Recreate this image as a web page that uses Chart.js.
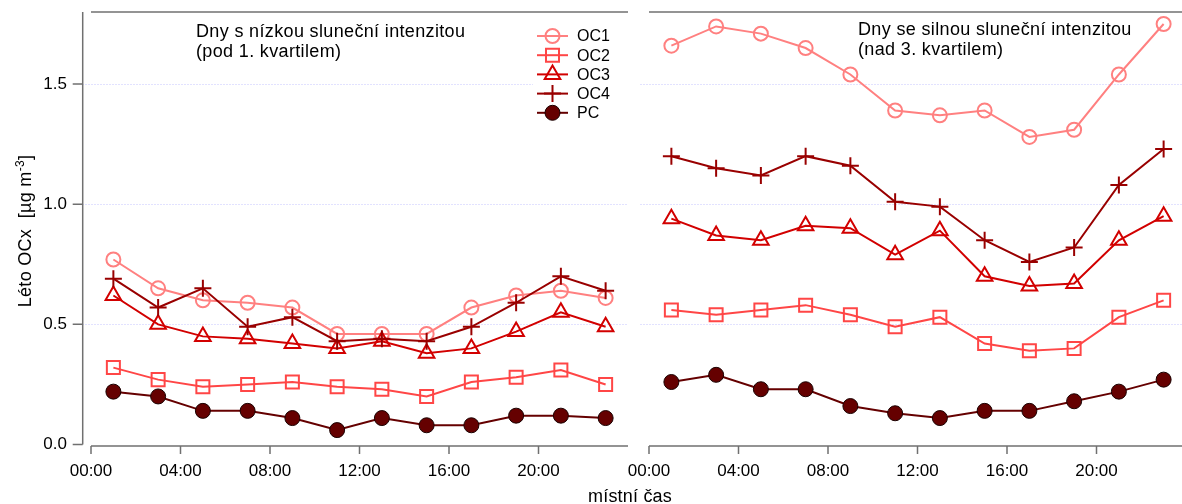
<!DOCTYPE html>
<html><head><meta charset="utf-8">
<script src="https://cdn.jsdelivr.net/npm/chart.js@4.4.1/dist/chart.umd.min.js"></script>
<style>
html,body{margin:0;padding:0;background:#fff;overflow:hidden;}
#wrap{position:relative;width:1182px;height:504px;overflow:hidden;font-family:"Liberation Sans",Arial,sans-serif;color:#000;}
#c1{position:absolute;left:0;top:0;}
#c2{position:absolute;left:600px;top:0;}
.note{position:absolute;font-size:18px;line-height:20px;white-space:nowrap;letter-spacing:0.35px;}
#ytitle{position:absolute;left:-75px;top:221px;width:200px;height:20px;line-height:20px;font-size:18px;letter-spacing:0.3px;text-align:center;white-space:nowrap;transform:rotate(-90deg);transform-origin:50% 50%;}
#ytitle .sup{position:relative;top:-7px;font-size:12px;}
#xtitle{position:absolute;left:530px;top:486px;width:200px;text-align:center;font-size:18px;line-height:20px;letter-spacing:0.2px;}
</style></head>
<body><div id="wrap">
<canvas id="c1" width="640" height="504"></canvas>
<canvas id="c2" width="600" height="504"></canvas>
<div class="note" style="left:196px;top:21px;">Dny s nízkou sluneční intenzitou<br>(pod 1. kvartilem)</div>
<div class="note" style="left:858px;top:19px;">Dny se silnou sluneční intenzitou<br>(nad 3. kvartilem)</div>
<div id="ytitle">Léto OCx&nbsp; [µg m<span class="sup">-3</span>]</div>
<div id="xtitle">místní čas</div>
</div>
<script>
// ---- data ----
const hours = [1, 3, 5, 7, 9, 11, 13, 15, 17, 19, 21, 23];
const xTicks = [0, 4, 8, 12, 16, 20];
const xTickLabels = ['00:00', '04:00', '08:00', '12:00', '16:00', '20:00'];
const yTicks = [0.0, 0.5, 1.0, 1.5];
const seriesNames = ['OC1', 'OC2', 'OC3', 'OC4', 'PC'];

// low solar intensity days (below 1st quartile)
const lowOC1 = [0.77, 0.65, 0.60, 0.59, 0.57, 0.46, 0.46, 0.46, 0.57, 0.62, 0.64, 0.61];
const lowOC2 = [0.32, 0.27, 0.24, 0.25, 0.26, 0.24, 0.23, 0.20, 0.26, 0.28, 0.31, 0.25];
const lowOC3 = [0.62, 0.50, 0.45, 0.44, 0.42, 0.40, 0.43, 0.38, 0.40, 0.47, 0.55, 0.49];
const lowOC4 = [0.69, 0.57, 0.65, 0.49, 0.53, 0.43, 0.44, 0.43, 0.49, 0.59, 0.70, 0.64];
const lowPC  = [0.22, 0.20, 0.14, 0.14, 0.11, 0.06, 0.11, 0.08, 0.08, 0.12, 0.12, 0.11];

// high solar intensity days (above 3rd quartile)
const highOC1 = [1.66, 1.74, 1.71, 1.65, 1.54, 1.39, 1.37, 1.39, 1.28, 1.31, 1.54, 1.75];
const highOC2 = [0.56, 0.54, 0.56, 0.58, 0.54, 0.49, 0.53, 0.42, 0.39, 0.40, 0.53, 0.60];
const highOC3 = [0.94, 0.87, 0.85, 0.91, 0.90, 0.79, 0.89, 0.70, 0.66, 0.67, 0.85, 0.95];
const highOC4 = [1.20, 1.15, 1.12, 1.20, 1.16, 1.01, 0.99, 0.85, 0.76, 0.82, 1.08, 1.23];
const highPC  = [0.26, 0.29, 0.23, 0.23, 0.16, 0.13, 0.11, 0.14, 0.14, 0.18, 0.22, 0.27];

// ---- styles ----
const FONT = '"Liberation Sans", Arial, sans-serif';
const styles = {
  OC1: {color: '#ff8080', pointStyle: 'circle',   radius: 7,   bg: 'rgba(0,0,0,0)', border: '#ff8080', bw: 2},
  OC2: {color: '#ff4646', pointStyle: 'rect',     radius: 9.2, bg: 'rgba(0,0,0,0)', border: '#ff4646', bw: 2},
  OC3: {color: '#d20000', pointStyle: 'triangle', radius: 9,   bg: 'rgba(0,0,0,0)', border: '#d20000', bw: 2},
  OC4: {color: '#990000', pointStyle: 'cross',    radius: 8.5, bg: 'rgba(0,0,0,0)', border: '#990000', bw: 2},
  PC:  {color: '#650000', pointStyle: 'circle',   radius: 7.5, bg: '#650000',       border: '#1a0000', bw: 1}
};

function makeDatasets(arrs) {
  return seriesNames.map((name, i) => {
    const s = styles[name];
    return {
      label: name,
      data: hours.map((h, j) => ({x: h, y: arrs[i][j]})),
      borderColor: s.color,
      borderWidth: 2,
      backgroundColor: s.bg,
      pointStyle: s.pointStyle,
      pointRadius: s.radius,
      pointHoverRadius: s.radius,
      pointBackgroundColor: s.bg,
      pointBorderColor: s.border,
      pointBorderWidth: s.bw,
      tension: 0,
      fill: false,
      order: seriesNames.length - i
    };
  });
}

const igorAxes = {
  id: 'igorAxes',
  beforeDatasetsDraw(chart, args, opts) {
    const {ctx, chartArea: a, scales: {x, y}} = chart;
    ctx.save();
    // dotted gridlines
    ctx.strokeStyle = '#c4c4ff';
    ctx.lineWidth = 1;
    ctx.setLineDash([1, 2]);
    yTicks.forEach(v => {
      if (v <= 0) return;
      const py = Math.round(y.getPixelForValue(v)) + 0.5;
      ctx.beginPath(); ctx.moveTo(a.left - 8.5, py); ctx.lineTo(a.right, py); ctx.stroke();
    });
    ctx.setLineDash([]);
    ctx.strokeStyle = '#707070';
    ctx.lineWidth = 1.5;
    // top frame line
    ctx.beginPath(); ctx.moveTo(a.left, a.top); ctx.lineTo(a.right, a.top); ctx.stroke();
    // x axis
    const xb = a.bottom + 1.5;
    ctx.beginPath(); ctx.moveTo(a.left, xb); ctx.lineTo(a.right, xb);
    xTicks.forEach(v => {
      const px = x.getPixelForValue(v);
      ctx.moveTo(px, xb); ctx.lineTo(px, xb + 8);
    });
    ctx.stroke();
    if (opts.yAxis) {
      const ax = a.left - 8.3;
      ctx.beginPath(); ctx.moveTo(ax, a.top); ctx.lineTo(ax, a.bottom);
      yTicks.forEach(v => {
        const py = y.getPixelForValue(v);
        ctx.moveTo(ax, py); ctx.lineTo(ax - 10, py);
      });
      ctx.stroke();
    }
    ctx.restore();
  }
};

const igorLegend = {
  id: 'igorLegend',
  afterDatasetsDraw(chart, args, opts) {
    if (!opts.show) return;
    const ctx = chart.ctx;
    ctx.save();
    ctx.fillStyle = '#ffffff';
    ctx.fillRect(opts.x - 4, opts.y - 10, 96, opts.dy * 5 + 2);
    chart.data.datasets.forEach((ds, i) => {
      const cy = opts.y + i * opts.dy;
      ctx.setLineDash([]);
      ctx.strokeStyle = ds.borderColor;
      ctx.lineWidth = ds.borderWidth;
      ctx.beginPath(); ctx.moveTo(opts.x, cy); ctx.lineTo(opts.x + 31, cy); ctx.stroke();
      ctx.fillStyle = ds.pointBackgroundColor;
      ctx.strokeStyle = ds.pointBorderColor;
      ctx.lineWidth = ds.pointBorderWidth;
      Chart.helpers.drawPoint(ctx, {pointStyle: ds.pointStyle, radius: ds.pointRadius, borderWidth: ds.pointBorderWidth, rotation: 0}, opts.x + 15.5, cy);
      ctx.fillStyle = '#000';
      ctx.font = '16px ' + FONT;
      ctx.textBaseline = 'middle';
      ctx.textAlign = 'left';
      ctx.fillText(ds.label, opts.x + 40, cy + 1);
    });
    ctx.restore();
  }
};

function xScale(maxV) {
  return {
    type: 'linear', min: 0, max: maxV,
    afterBuildTicks: s => { s.ticks = xTicks.map(v => ({value: v})); },
    afterFit: s => { s.height = 59.5; },
    grid: {display: false, drawTicks: false},
    border: {display: false},
    ticks: {
      autoSkip: false, maxRotation: 0, padding: 17, color: '#000',
      font: {size: 17, family: FONT},
      callback: v => xTickLabels[xTicks.indexOf(v)]
    }
  };
}

const common = {
  responsive: false,
  animation: false,
  events: []
};

new Chart(document.getElementById('c1'), {
  type: 'line',
  data: {datasets: makeDatasets([lowOC1, lowOC2, lowOC3, lowOC4, lowPC])},
  plugins: [igorAxes, igorLegend],
  options: Object.assign({}, common, {
    layout: {padding: {left: 0, right: 12, top: 12, bottom: 0}},
    plugins: {legend: {display: false}, tooltip: {enabled: false},
      igorAxes: {yAxis: true},
      igorLegend: {show: true, x: 537, y: 36, dy: 19.2}},
    scales: {
      x: xScale(24),
      y: {
        min: 0, max: 1.8,
        afterBuildTicks: s => { s.ticks = yTicks.map(v => ({value: v})); },
        afterFit: s => { s.width = 91; s.paddingTop = 0; s.paddingBottom = 0; },
        grid: {display: false, drawTicks: false},
        border: {display: false},
        ticks: {padding: 24, color: '#000', font: {size: 17, family: FONT}, callback: v => v.toFixed(1)}
      }
    }
  })
});

new Chart(document.getElementById('c2'), {
  type: 'line',
  data: {datasets: makeDatasets([highOC1, highOC2, highOC3, highOC4, highPC])},
  plugins: [igorAxes, igorLegend],
  options: Object.assign({}, common, {
    layout: {padding: {left: 49, right: 14, top: 12, bottom: 0}},
    plugins: {legend: {display: false}, tooltip: {enabled: false},
      igorAxes: {yAxis: false},
      igorLegend: {show: false}},
    scales: {
      x: xScale(24),
      y: {display: false, min: 0, max: 1.8}
    }
  })
});
</script>
</body></html>
